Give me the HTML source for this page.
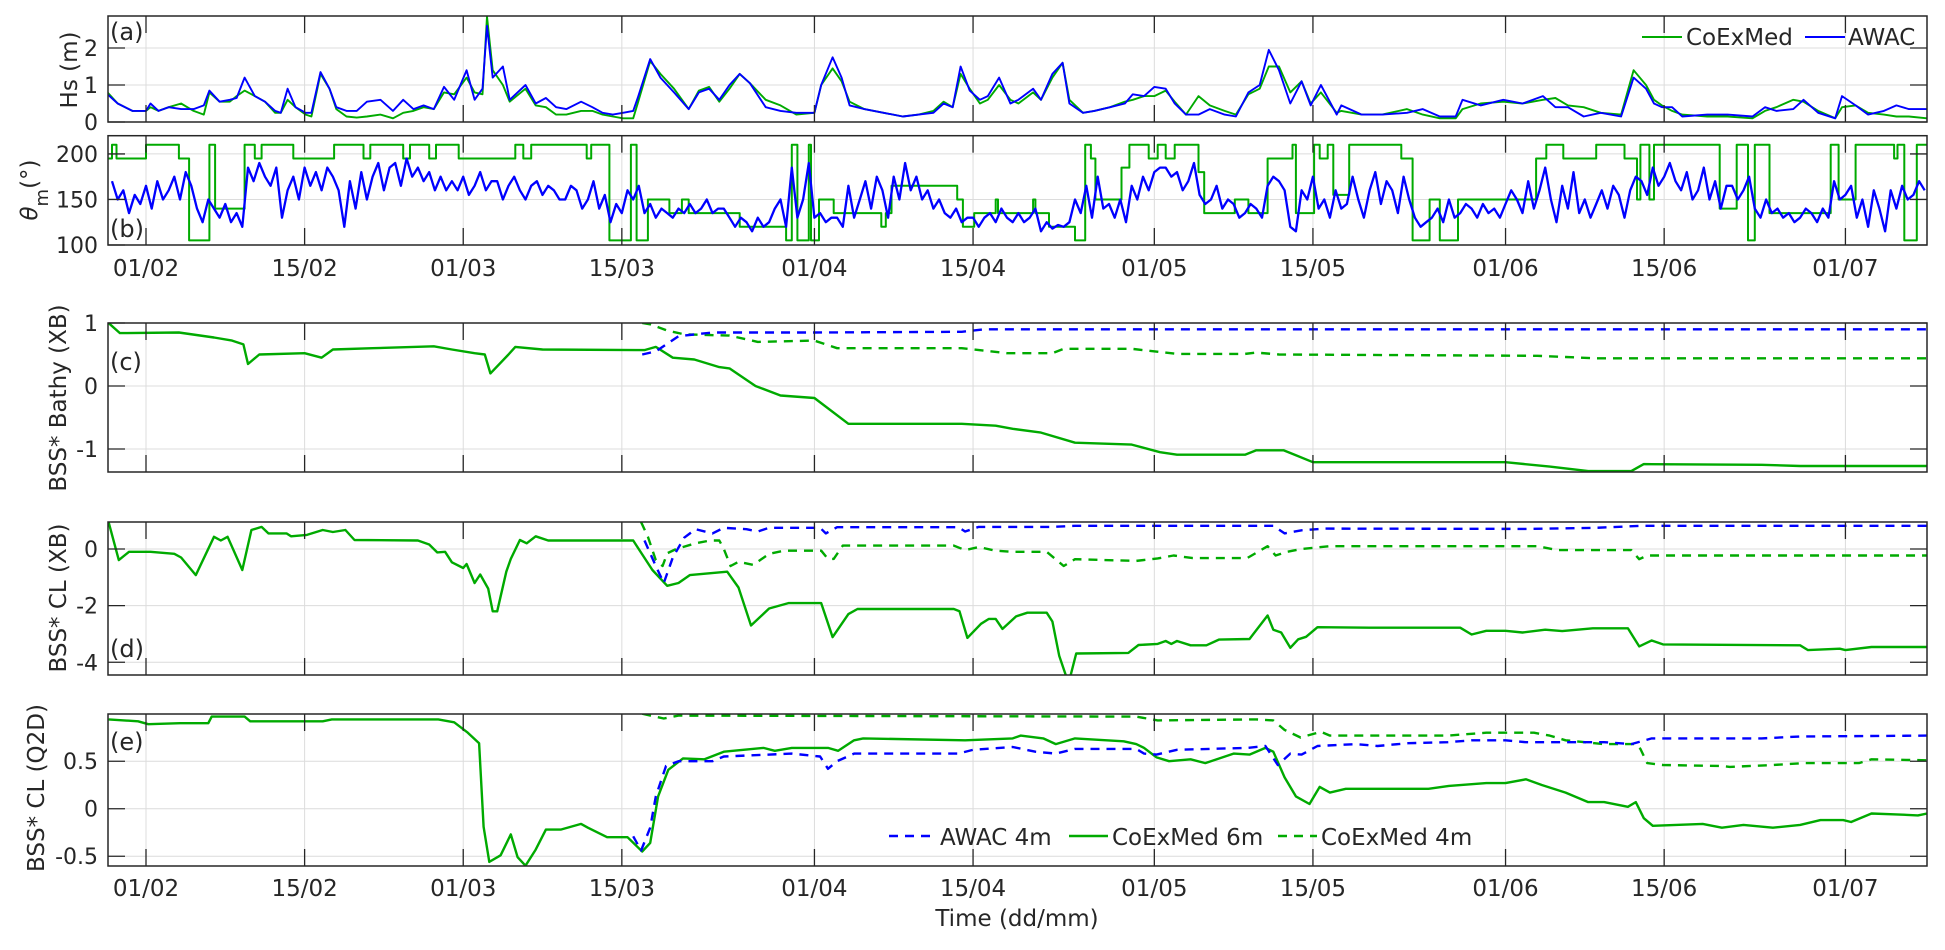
<!DOCTYPE html>
<html><head><meta charset="utf-8"><style>
html,body{margin:0;padding:0;background:#fff}
svg text{font-family:"DejaVu Sans","Liberation Sans",sans-serif;fill:#262626}
</style></head><body>
<svg id="fig" xmlns="http://www.w3.org/2000/svg" width="1945" height="945" viewBox="0 0 1945 945">
<rect x="0" y="0" width="1945" height="945" fill="#fff"/>
</svg>
<script>
// ---------- DATA ----------
const dateTickDays = [0,14,28,42,59,73,89,103,120,134,150];
const dateTickLabels = ["01/02","15/02","01/03","15/03","01/04","15/04","01/05","15/05","01/06","15/06","01/07"];

// Hs samples: [day since 01/02, AWAC, CoExMed]
const hsSamples = [
[-3.4,.75,.8],[-2.5,.5,.5],[-1.2,.3,.3],[0,.3,.3],[0.4,.5,.4],[1.1,.3,.3],[2,.4,.4],[3.1,.35,.5],[4.2,.35,.3],[5.1,.45,.2],
[5.6,.85,.8],[6.5,.55,.55],[7.4,.6,.55],[8,.65,.7],[8.7,1.2,.85],[9.6,.7,.7],[10.5,.55,.55],[11.4,.3,.25],[11.9,.25,.25],[12.5,.9,.6],
[13.2,.4,.4],[14.1,.25,.2],[14.6,.25,.15],[15.4,1.35,1.3],[16.2,.9,.9],[16.8,.4,.35],[17.7,.3,.15],[18.6,.3,.12],[19.5,.55,.15],[20.7,.6,.2],
[21.8,.3,.1],[22.7,.6,.25],[23.6,.35,.3],[24.5,.45,.4],[25.4,.35,.35],[26.3,.95,.8],[27.2,.6,.75],[28.3,1.4,1.2],[29,.6,.8],[29.7,.9,.75],
[30.1,2.6,2.85],[30.6,1.2,1.4],[31.5,1.5,1.0],[32.1,.6,.55],[33.5,1.0,.9],[34.4,.5,.45],[35.3,.65,.4],[36.2,.4,.2],[37.1,.35,.2],[38.4,.55,.3],
[39.4,.4,.3],[40.3,.25,.2],[41.2,.2,.15],[42.1,.25,.1],[43,.3,.1],[43.4,.65,.5],[44.5,1.7,1.65],[45.4,1.2,1.3],[46.6,.8,.9],[47.9,.35,.35],
[48.8,.8,.85],[49.7,.9,.95],[50.6,.6,.55],[51.5,1.0,.9],[52.4,1.3,1.3],[53.3,1.05,1.05],[54.7,.4,.6],[56,.3,.45],[57.4,.25,.2],[59,.25,.25],
[59.6,1.0,1.0],[60.6,1.75,1.45],[61.4,1.2,1.1],[62.1,.45,.55],[63.4,.35,.35],[65.1,.25,.25],[66.8,.15,.15],[68.2,.2,.2],[69.5,.25,.3],[70.4,.5,.55],
[71.2,.4,.4],[71.9,1.5,1.3],[72.7,.85,.9],[73.6,.6,.5],[74.3,.7,.6],[75.3,1.2,1.0],[76.3,.5,.6],[77,.6,.5],[78.3,.9,.8],[79,.6,.6],
[80,1.3,1.2],[80.9,1.6,1.6],[81.5,.5,.6],[82.7,.25,.25],[83.7,.3,.3],[85.1,.4,.4],[86.4,.5,.55],[87.1,.75,.6],[88.1,.7,.7],[89,.95,.7],
[90,.9,.85],[90.8,.5,.55],[91.8,.2,.2],[92.9,.2,.7],[93.9,.35,.45],[95.2,.2,.3],[96.2,.15,.2],[97.3,.8,.75],[98.3,1.0,.9],[99.1,1.95,1.5],
[100,1.4,1.5],[101,.5,.8],[102,1.1,1.1],[102.8,.45,.5],[103.7,1.0,.8],[105.1,.2,.25],[105.5,.45,.3],[107.3,.2,.2],[109.1,.2,.2],[111.3,.25,.35],
[112.7,.35,.2],[114.2,.15,.1],[115.6,.15,.1],[116.2,.6,.35],[117.8,.45,.5],[119.8,.6,.55],[121.5,.5,.5],[123.3,.7,.6],[124.4,.4,.65],[125.5,.4,.45],
[126.9,.15,.4],[128.4,.25,.25],[130.2,.15,.2],[131.3,1.2,1.4],[132.4,.9,1.0],[133.1,.5,.6],[133.8,.4,.45],[134.7,.4,.3],[135.6,.15,.2],[137.8,.2,.15],
[139.6,.2,.15],[141.8,.15,.1],[142.9,.4,.3],[143.9,.3,.4],[145.4,.35,.6],[146.3,.6,.55],[147.6,.25,.3],[149.1,.1,.1],[149.7,.7,.4],[150.9,.45,.45],
[152,.2,.25],[153.4,.3,.2],[154.5,.45,.15],[155.6,.35,.15],[157.2,.35,.1]
];

// Mean direction AWAC, every half day starting at day -3
const thetaStartDay = -3;
const thetaStepDays = 0.5;
const thetaAwac = [
170,150,160,135,155,145,165,140,170,150,160,175,150,180,165,140,125,150,140,130,
145,125,135,120,185,170,190,175,165,185,130,160,175,150,185,165,180,160,185,175,
160,120,170,140,180,150,175,190,160,185,190,165,195,175,185,170,180,160,175,160,
170,160,175,155,165,180,160,170,170,150,165,175,160,150,165,170,155,165,160,150,
150,165,160,140,150,170,140,155,125,145,135,160,150,165,135,145,130,140,135,130,
140,135,145,135,140,150,135,140,140,130,120,130,125,115,130,120,125,140,150,120,
185,130,150,190,130,135,125,130,130,120,165,130,150,170,140,175,160,130,175,150,
190,160,175,150,160,140,150,135,130,140,125,130,130,120,130,135,125,140,130,125,
135,125,130,140,115,125,118,122,120,125,150,135,165,130,175,140,145,130,150,125,
165,150,175,160,180,185,185,175,180,160,170,190,155,145,150,165,140,150,145,130,
135,145,140,130,165,175,170,160,120,115,160,150,175,140,150,130,160,140,145,175,
150,130,160,180,145,170,160,135,175,150,130,120,125,130,140,125,150,130,135,145,
140,130,145,135,140,130,145,160,150,135,170,140,160,185,150,125,165,140,180,135,
150,130,145,160,140,165,155,130,160,175,170,155,185,165,175,190,170,160,180,150,
160,185,150,170,140,165,165,150,160,175,140,130,150,135,140,130,135,125,130,140,
135,125,140,130,170,150,155,165,130,150,120,160,140,115,160,140,165,150,155,170,160
];
// Mean direction CoExMed (step changes): [start day, value]
const thetaCoex = [
[-3.4,195],[-3.0,210],[-2.6,195],[0,210],[2.9,195],[3.8,105],[5.6,210],[6.1,140],[8.7,210],[9.6,195],
[10.2,210],[13.0,195],[16.6,210],[19.2,195],[19.8,210],[22.7,195],[23.3,210],[25.0,195],[25.6,210],[27.6,195],
[32.6,210],[33.3,195],[34.0,210],[38.9,195],[39.3,210],[40.9,105],[42.8,210],[43.3,105],[44.3,150],[46.2,135],
[47.3,150],[47.9,135],[52.4,120],[56.5,105],[57.0,210],[57.5,105],[58.5,210],[58.7,105],[59.4,150],[60.7,135],
[64.9,120],[65.3,135],[65.8,165],[71.6,150],[72.1,120],[73.1,135],[75,150],[75.2,135],[78.3,150],[78.5,135],
[79.7,120],[82,105],[82.9,210],[83.4,195],[83.8,150],[86.1,185],[86.8,210],[88.5,195],[89.3,210],[90.0,195],
[90.8,210],[92.9,180],[93.4,135],[96.1,150],[97.3,135],[99,195],[101.2,210],[101.5,135],[103.1,210],[103.6,195],
[104.3,210],[104.8,155],[106.2,210],[110.8,195],[111.8,105],[113.3,150],[114.2,105],[115.8,150],[122.7,195],[123.6,210],
[125.1,195],[128,210],[130.5,195],[131.6,150],[131.9,210],[132.7,150],[133.1,210],[138.9,140],[140.4,210],[141.4,105],
[142,210],[143.3,135],[148.7,210],[149.4,150],[150.9,210],[154.3,195],[154.6,210],[155.2,105],[156.3,210],[157.3,210]
];

// (c) BSS* Bathy (XB): [day, value]
const bathyCoex6 = [
[-3.3,1.0],[-2.3,0.84],[2.9,0.85],[6,0.77],[7.6,0.72],[8.6,0.66],[9.0,0.35],[10,0.5],[14,0.52],[15.5,0.45],
[16.5,0.58],[20,0.6],[25.4,0.63],[27,0.58],[29,0.52],[29.9,0.5],[30.4,0.2],[32,0.5],[32.6,0.62],[35,0.58],
[44,0.57],[45,0.62],[46.5,0.45],[48.4,0.42],[50.6,0.3],[51.5,0.28],[53.8,0.0],[56,-0.15],[59,-0.19],[62,-0.6],
[72,-0.6],[75,-0.63],[76.5,-0.68],[79,-0.74],[82,-0.9],[87,-0.93],[89.5,-1.05],[91,-1.09],[97,-1.09],[98,-1.02],
[100.4,-1.02],[101.5,-1.10],[103,-1.21],[120,-1.21],[123.9,-1.28],[127.3,-1.35],[131.1,-1.35],[132.2,-1.24],[142.6,-1.25],[146,-1.27],[157.2,-1.27]
];
const bathyAwac4 = [[43.8,0.5],[45,0.55],[47,0.79],[50,0.85],[59,0.85],[72,0.86],[74,0.9],[157.2,0.9]];
const bathyCoex4 = [
[43.8,1.0],[44.5,0.98],[46,0.88],[47.5,0.82],[51.5,0.8],[54,0.7],[59,0.72],[61,0.6],[72,0.6],[74,0.56],
[76,0.52],[80,0.52],[81,0.59],[87,0.59],[91,0.51],[97,0.51],[98,0.53],[100,0.5],[122.8,0.48],[125.3,0.46],[128,0.44],[157.2,0.44]
];

// (d) BSS* CL (XB)
const clxbCoex6 = [
[-3.3,0.95],[-2.4,-0.39],[-1.5,-0.1],[0.4,-0.1],[2.5,-0.17],[3.1,-0.3],[4.4,-0.92],[6.0,0.43],[6.6,0.3],[7.2,0.43],
[8.5,-0.74],[9.3,0.67],[10.2,0.78],[10.8,0.55],[12.4,0.55],[12.8,0.45],[14.2,0.5],[15.6,0.67],[16.5,0.6],[17.6,0.67],
[18.4,0.32],[24,0.3],[25,0.16],[25.7,-0.12],[26.4,-0.1],[27,-0.47],[28,-0.67],[28.3,-0.53],[29,-1.2],[29.5,-0.9],
[30.2,-1.4],[30.6,-2.2],[31,-2.2],[31.8,-0.8],[32.2,-0.35],[33,0.32],[33.6,0.2],[34.4,0.45],[35.5,0.3],[43,0.3],
[44.7,-0.74],[46,-1.3],[47,-1.2],[48,-0.92],[51.3,-0.8],[52.3,-1.36],[53.4,-2.7],[55,-2.1],[56.7,-1.91],[59.6,-1.91],
[60.6,-3.11],[62,-2.3],[62.8,-2.12],[71.3,-2.12],[71.8,-2.2],[72.5,-3.14],[73.7,-2.64],[74.4,-2.47],[75,-2.47],[75.6,-2.82],
[76.8,-2.38],[77.8,-2.25],[79.5,-2.25],[80,-2.56],[80.6,-3.77],[81.2,-4.48],[81.6,-4.48],[82.1,-3.69],[86.7,-3.67],[87.6,-3.39],
[89.3,-3.35],[90,-3.25],[90.5,-3.35],[91,-3.25],[92.2,-3.4],[93.6,-3.4],[94.7,-3.2],[97.4,-3.18],[99,-2.35],[99.5,-2.85],
[100.2,-2.95],[101,-3.49],[101.7,-3.19],[102.4,-3.1],[103.4,-2.76],[108,-2.78],[116,-2.78],[117,-3.02],[118.3,-2.89],[120,-2.89],
[121.5,-2.95],[123.5,-2.85],[125,-2.9],[127.7,-2.8],[130.8,-2.8],[131.8,-3.44],[132.9,-3.23],[133.9,-3.37],[146,-3.4],[146.7,-3.57],
[149.5,-3.52],[150,-3.57],[152.3,-3.46],[157.2,-3.46]
];
const clxbAwac4 = [
[44,0.3],[45,-0.6],[45.7,-1.2],[46.5,-0.3],[47.5,0.4],[48.5,0.7],[50,0.55],[51,0.75],[53,0.7],[54,0.62],
[55,0.75],[59.5,0.75],[60,0.55],[61,0.77],[71.7,0.77],[72.3,0.62],[73.5,0.78],[80,0.78],[82,0.82],[99.5,0.82],
[100.5,0.55],[102,0.66],[104,0.72],[121.8,0.71],[128,0.75],[132,0.82],[157.2,0.82]
];
const clxbCoex4 = [
[43.7,0.95],[44.3,0.43],[45,-0.39],[45.6,-0.6],[46,-0.15],[46.8,0],[48.5,0.2],[49.8,0.3],[50.6,0.3],[51,0],
[51.6,-0.6],[52.3,-0.45],[53.6,-0.56],[55,-0.17],[56.3,-0.06],[59.6,-0.06],[60.2,-0.35],[60.7,-0.35],[61.5,0.12],[71.3,0.12],
[72.3,-0.04],[73.5,0.07],[75,-0.06],[76.5,-0.1],[79.5,-0.1],[81,-0.6],[82,-0.36],[87.4,-0.42],[89.3,-0.33],[90.7,-0.23],
[92.4,-0.32],[97.2,-0.32],[99,0.1],[99.7,-0.23],[100.7,-0.1],[102,0],[104.5,0.1],[122.8,0.1],[124.6,-0.04],[131.1,-0.04],
[131.8,-0.36],[132.5,-0.23],[157.2,-0.23]
];

// (e) BSS* CL (Q2D)
const clq2dCoex6 = [
[-3.3,0.94],[-0.7,0.92],[0.2,0.89],[3,0.9],[5.5,0.9],[5.8,0.97],[8.7,0.97],[9.2,0.92],[15.6,0.92],[16.4,0.94],
[25.8,0.94],[27.2,0.91],[28.4,0.8],[29.4,0.69],[29.8,-0.19],[30.3,-0.56],[31.3,-0.49],[32.2,-0.27],[32.8,-0.51],[33.5,-0.6],
[34.4,-0.43],[35.3,-0.22],[36.6,-0.22],[38.4,-0.16],[39,-0.2],[40.7,-0.3],[42.5,-0.3],[43.8,-0.45],[44.5,-0.36],[45.2,0.13],
[46.1,0.41],[47.4,0.53],[49.3,0.52],[51,0.6],[54.5,0.64],[55.5,0.61],[57,0.64],[60.2,0.64],[61.1,0.61],[62.5,0.72],
[63.3,0.74],[72.3,0.72],[76.5,0.74],[77.2,0.77],[79.2,0.74],[80.3,0.68],[82,0.74],[86.3,0.71],[87.4,0.68],[88.1,0.64],
[89.2,0.54],[90.3,0.5],[92.2,0.52],[93.5,0.48],[96,0.58],[97.4,0.57],[98.8,0.64],[99.5,0.6],[100.5,0.33],[101.5,0.13],
[102.7,0.05],[103.6,0.23],[104.5,0.17],[105.9,0.21],[113.2,0.21],[115,0.24],[118.3,0.27],[120,0.27],[121.8,0.31],[123.2,0.25],
[125.3,0.17],[127.3,0.07],[128.7,0.07],[130.8,0.02],[131.5,0.07],[132.2,-0.1],[133,-0.18],[137.4,-0.16],[139.1,-0.2],[141,-0.17],
[143.6,-0.2],[146,-0.17],[147.8,-0.12],[149.8,-0.12],[150.5,-0.14],[152.3,-0.05],[154.5,-0.06],[156.4,-0.07],[157.2,-0.05]
];
const clq2dAwac4 = [
[43,-0.29],[43.7,-0.44],[44.5,-0.2],[45,0.13],[45.9,0.45],[47,0.5],[50,0.5],[51,0.55],[57,0.58],[59.5,0.55],
[60.2,0.42],[61,0.5],[62.5,0.58],[71.7,0.58],[73,0.62],[76.5,0.65],[78.5,0.6],[80.3,0.58],[82,0.63],[87.4,0.63],
[88.1,0.58],[89.2,0.57],[91,0.62],[97.2,0.64],[98.8,0.66],[99.9,0.46],[101,0.58],[102,0.57],[103.4,0.66],[106.8,0.68],
[108.7,0.66],[111.4,0.69],[114.9,0.7],[117,0.72],[120,0.72],[121.8,0.7],[128.7,0.7],[131.1,0.68],[132.9,0.74],[142.6,0.74],
[146,0.76],[157.2,0.77]
];
const clq2dCoex4 = [
[43.8,1.0],[45.7,0.95],[47,0.98],[87.4,0.97],[89.3,0.93],[98,0.94],[99.5,0.93],[100.5,0.83],[101.9,0.75],[103.7,0.81],
[104.5,0.77],[114.9,0.77],[118.3,0.8],[122.5,0.8],[123.9,0.77],[125.3,0.72],[128.7,0.68],[131.5,0.68],[131.9,0.63],[132.5,0.48],
[133.9,0.46],[139.1,0.45],[139.8,0.44],[143.6,0.46],[146.4,0.48],[151.2,0.48],[152.3,0.52],[157.2,0.51]
];

// ---------- RENDER ----------
const NS = "http://www.w3.org/2000/svg";
const svg = document.getElementById("fig");
const X0 = 108, X1 = 1927, D0 = -3.354, D1 = 157.2;
const GREEN = "#00aa00", BLUE = "#0000ff";
function xs(d){ return X0 + (d - D0) / (D1 - D0) * (X1 - X0); }
function mk(tag, attrs, parent){
  const e = document.createElementNS(NS, tag);
  for (const k in attrs) e.setAttribute(k, attrs[k]);
  (parent || svg).appendChild(e);
  return e;
}
const defs = mk("defs", {});

const panels = {
  a:{top:16, bot:122, lo:0, hi:2.865, ticks:[0,1,2], labels:["0","1","2"], tag:"(a)", tagY:40},
  b:{top:135.7, bot:245, lo:100, hi:220, ticks:[100,150,200], labels:["100","150","200"], tag:"(b)", tagY:237},
  c:{top:323, bot:472, lo:-1.365, hi:1, ticks:[-1,0,1], labels:["-1","0","1"], tag:"(c)", tagY:370},
  d:{top:522, bot:675, lo:-4.45, hi:0.954, ticks:[-4,-2,0], labels:["-4","-2","0"], tag:"(d)", tagY:657},
  e:{top:714, bot:866, lo:-0.603, hi:0.997, ticks:[-0.5,0,0.5], labels:["-0.5","0","0.5"], tag:"(e)", tagY:750}
};
function ys(p, v){ return p.bot - (v - p.lo) / (p.hi - p.lo) * (p.bot - p.top); }

for (const key in panels){
  const p = panels[key];
  const g = mk("g", {});
  
  
  p.g = g;
  const cp = mk("clipPath", {id:"clip-" + key}, defs);
  mk("rect", {x:X0, y:p.top, width:X1 - X0, height:p.bot - p.top}, cp);
  dateTickDays.forEach(d => {
    const gl = mk("line", {x1:xs(d), x2:xs(d), y1:p.top, y2:p.bot, stroke:"#dcdcdc", "stroke-width":1}, g);
    
    
  });
  p.ticks.forEach(v => {
    const gl = mk("line", {x1:X0, x2:X1, y1:ys(p, v), y2:ys(p, v), stroke:"#dcdcdc", "stroke-width":1}, g);
    
    
  });
  p.data = mk("g", {"clip-path":"url(#clip-" + key + ")"}, g);
}

function line(key, pts, color, width, dash, name){
  const p = panels[key];
  const d = pts.map((q, i) => (i ? "L" : "M") + xs(q[0]).toFixed(1) + "," + ys(p, q[1]).toFixed(1)).join("");
  const e = mk("path", {d:d, fill:"none", stroke:color, "stroke-width":width, "stroke-linejoin":"round"}, p.data);
  if (dash) e.setAttribute("stroke-dasharray", dash);
  
  
  return e;
}

// (a)
line("a", hsSamples.map(r => [r[0], r[2]]), GREEN, 1.9, null, "hs-coexmed-line");
line("a", hsSamples.map(r => [r[0], r[1]]), BLUE, 1.9, null, "hs-awac-line");
// (b)
const stepPts = [];
thetaCoex.forEach((r, i) => {
  if (i > 0) stepPts.push([r[0], thetaCoex[i - 1][1]]);
  stepPts.push([r[0], r[1]]);
});
line("b", stepPts, GREEN, 2, null, "theta-coexmed-line");
line("b", thetaAwac.map((v, i) => [thetaStartDay + i * thetaStepDays, v]), BLUE, 2.3, null, "theta-awac-line");
// (c)
line("c", bathyCoex6, GREEN, 2.4, null, "bathy-coexmed-6m-line");
line("c", bathyCoex4, GREEN, 2.4, "9,7", "bathy-coexmed-4m-line");
line("c", bathyAwac4, BLUE, 2.4, "9,7", "bathy-awac-4m-line");
// (d)
line("d", clxbCoex6, GREEN, 2.4, null, "clxb-coexmed-6m-line");
line("d", clxbCoex4, GREEN, 2.4, "9,7", "clxb-coexmed-4m-line");
line("d", clxbAwac4, BLUE, 2.4, "9,7", "clxb-awac-4m-line");
// (e)
line("e", clq2dCoex6, GREEN, 2.4, null, "clq2d-coexmed-6m-line");
line("e", clq2dCoex4, GREEN, 2.4, "9,7", "clq2d-coexmed-4m-line");
line("e", clq2dAwac4, BLUE, 2.4, "9,7", "clq2d-awac-4m-line");

for (const key in panels){
  const p = panels[key], g = p.g;
  const box = mk("rect", {x:X0, y:p.top, width:X1 - X0, height:p.bot - p.top, fill:"none", stroke:"#262626", "stroke-width":1.5}, g);
  
  
  dateTickDays.forEach(d => {
    mk("line", {x1:xs(d), x2:xs(d), y1:p.bot, y2:p.bot - 17, stroke:"#262626", "stroke-width":1.3}, g);
    mk("line", {x1:xs(d), x2:xs(d), y1:p.top, y2:p.top + 17, stroke:"#262626", "stroke-width":1.3}, g);
  });
  p.ticks.forEach((v, i) => {
    const y = ys(p, v);
    mk("line", {x1:X0, x2:X0 + 17, y1:y, y2:y, stroke:"#262626", "stroke-width":1.3}, g);
    mk("line", {x1:X1, x2:X1 - 17, y1:y, y2:y, stroke:"#262626", "stroke-width":1.3}, g);
    const t = mk("text", {x:98, y:y + 8, "text-anchor":"end", "font-size":22}, g);
    t.textContent = p.labels[i];
    
    
  });
  const tg = mk("text", {x:110, y:p.tagY, "font-size":24, fill:"#000"}, g);
  tg.textContent = p.tag;
  
  
}
[[276, "b"], [896, "e"]].forEach(([yy, key]) => {
  dateTickDays.forEach((d, i) => {
    const t = mk("text", {x:xs(d), y:yy, "text-anchor":"middle", "font-size":23}, panels[key].g);
    t.textContent = dateTickLabels[i];
    
    
  });
});
</script>
<svg style="position:absolute;left:0;top:0" width="1945" height="945">
<g font-family="DejaVu Sans, Liberation Sans, sans-serif" fill="#262626">
<text transform="translate(77,70) rotate(-90)" text-anchor="middle" font-size="23" fill="#262626">Hs (m)</text>
<text transform="translate(37,190) rotate(-90)" text-anchor="middle" font-size="23" fill="#262626"><tspan font-style="italic">θ</tspan><tspan font-size="18" dy="11">m</tspan><tspan dy="-11">(°)</tspan></text>
<text transform="translate(66,398) rotate(-90)" text-anchor="middle" font-size="23" fill="#262626">BSS* Bathy (XB)</text>
<text transform="translate(66,598) rotate(-90)" text-anchor="middle" font-size="23" fill="#262626">BSS* CL (XB)</text>
<text transform="translate(44,788) rotate(-90)" text-anchor="middle" font-size="23" fill="#262626">BSS* CL (Q2D)</text>
<text x="1017" y="926" text-anchor="middle" font-size="23" fill="#262626">Time (dd/mm)</text>
<g>
<line x1="1642" y1="37" x2="1682" y2="37" stroke="#00aa00" stroke-width="2"/>
<text x="1686" y="45" font-size="23" fill="#000">CoExMed</text>
<line x1="1805" y1="37" x2="1845" y2="37" stroke="#0000ff" stroke-width="2"/>
<text x="1848" y="45" font-size="23" fill="#000">AWAC</text>
</g>
<g>
<line x1="889" y1="836" x2="930" y2="836" stroke="#0000ff" stroke-width="2.4" stroke-dasharray="9,7"/>
<text x="940" y="845" font-size="23" fill="#000">AWAC 4m</text>
<line x1="1069" y1="836" x2="1108" y2="836" stroke="#00aa00" stroke-width="2.4"/>
<text x="1112" y="845" font-size="23" fill="#000">CoExMed 6m</text>
<line x1="1278" y1="836" x2="1317" y2="836" stroke="#00aa00" stroke-width="2.4" stroke-dasharray="9,7"/>
<text x="1321" y="845" font-size="23" fill="#000">CoExMed 4m</text>
</g>
</g>
</svg>
</body></html>
